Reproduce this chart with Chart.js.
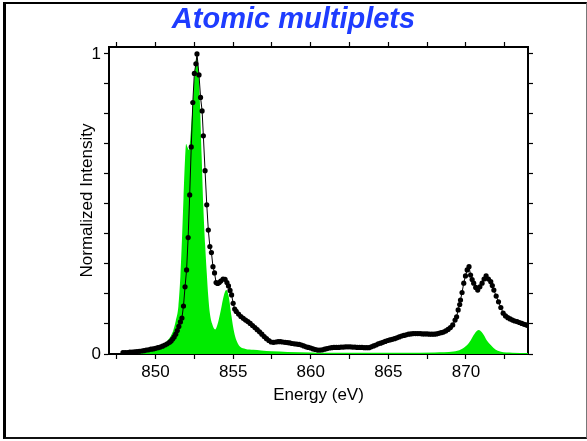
<!DOCTYPE html>
<html>
<head>
<meta charset="utf-8">
<script src="https://cdn.jsdelivr.net/npm/chart.js@4"></script>
<style>
  html, body { margin: 0; padding: 0; background: #fff; }
  #wrap { position: relative; width: 587px; height: 441px; }
  #chart { position: absolute; left: 0; top: 0; }
  #frame {
    position: absolute; left: 3px; top: 2px; width: 580px; height: 433px;
    border-left: 3px solid #000; border-top: 2px solid #000;
    border-bottom: 2px solid #111; border-right: 1px solid #777;
    pointer-events: none;
  }
</style>
</head>
<body>
<div id="wrap">
  <canvas id="chart" width="587" height="441"></canvas>
  <div id="frame"></div>
</div>
<script>
// Medido (pontos pretos)
const measuredEnergy = [847.9, 848.05, 848.2, 848.35, 848.5, 848.65, 848.8, 848.95, 849.1, 849.25,
  849.4, 849.55, 849.7, 849.85, 850.0, 850.15, 850.3, 850.45, 850.6, 850.75,
  850.9, 851.0, 851.1, 851.2, 851.3, 851.4, 851.5, 851.6, 851.7, 851.8,
  851.9, 852.0, 852.1, 852.2, 852.3, 852.4, 852.5, 852.6, 852.67, 852.8,
  852.9, 853.0, 853.08, 853.19, 853.3, 853.4, 853.5, 853.6, 853.7, 853.8,
  853.9, 854.0, 854.1, 854.2, 854.35, 854.48, 854.6, 854.7, 854.8, 854.9,
  855.0, 855.1, 855.2, 855.35, 855.5, 855.65, 855.8, 855.95, 856.1, 856.25,
  856.4, 856.55, 856.7, 856.85, 857.0, 857.15, 857.3, 857.45, 857.6, 857.75,
  857.9, 858.05, 858.2, 858.35, 858.5, 858.65, 858.8, 858.95, 859.1, 859.25,
  859.4, 859.55, 859.7, 859.85, 860.0, 860.15, 860.3, 860.45, 860.6, 860.75,
  860.9, 861.05, 861.2, 861.35, 861.5, 861.65, 861.8, 861.95, 862.1, 862.25,
  862.4, 862.55, 862.7, 862.85, 863.0, 863.15, 863.3, 863.45, 863.6, 863.75,
  863.9, 864.05, 864.2, 864.35, 864.5, 864.65, 864.8, 864.95, 865.1, 865.25,
  865.4, 865.55, 865.7, 865.85, 866.0, 866.15, 866.3, 866.45, 866.6, 866.75,
  866.9, 867.05, 867.2, 867.35, 867.5, 867.65, 867.8, 867.95, 868.1, 868.25,
  868.4, 868.55, 868.7, 868.85, 869.0, 869.15, 869.3, 869.4, 869.5, 869.6,
  869.65, 869.75, 869.86, 869.97, 870.08, 870.2, 870.3, 870.4, 870.5, 870.63,
  870.76, 870.9, 871.04, 871.17, 871.3, 871.45, 871.6, 871.7, 871.8, 871.95,
  872.1, 872.25, 872.4, 872.55, 872.7, 872.85, 873.0, 873.15, 873.3, 873.45,
  873.6, 873.75, 873.9, 874.0];
const measuredIntensity = [0.005, 0.005, 0.005, 0.006, 0.006, 0.007, 0.008, 0.009, 0.010, 0.011,
  0.013, 0.014, 0.016, 0.017, 0.019, 0.021, 0.023, 0.026, 0.030, 0.034,
  0.039, 0.043, 0.050, 0.057, 0.066, 0.078, 0.092, 0.107, 0.120, 0.160,
  0.224, 0.280, 0.388, 0.530, 0.690, 0.838, 0.935, 0.967, 1.0, 0.93,
  0.855, 0.81, 0.727, 0.611, 0.497, 0.413, 0.358, 0.338, 0.291, 0.27,
  0.238, 0.235, 0.238, 0.243, 0.25, 0.249, 0.238, 0.227, 0.212, 0.197,
  0.169, 0.150, 0.142, 0.133, 0.125, 0.119, 0.113, 0.108, 0.102, 0.095,
  0.088, 0.081, 0.074, 0.066, 0.058, 0.051, 0.045, 0.040, 0.039, 0.040,
  0.041, 0.041, 0.040, 0.039, 0.038, 0.037, 0.035, 0.034, 0.033, 0.032,
  0.030, 0.027, 0.024, 0.022, 0.020, 0.017, 0.015, 0.013, 0.013, 0.014,
  0.016, 0.018, 0.020, 0.021, 0.022, 0.022, 0.022, 0.023, 0.023, 0.024,
  0.024, 0.024, 0.023, 0.023, 0.022, 0.022, 0.022, 0.021, 0.021, 0.021,
  0.024, 0.027, 0.030, 0.034, 0.036, 0.039, 0.042, 0.045, 0.047, 0.049,
  0.051, 0.054, 0.057, 0.060, 0.062, 0.064, 0.066, 0.067, 0.068, 0.068,
  0.068, 0.068, 0.067, 0.067, 0.067, 0.066, 0.066, 0.066, 0.067, 0.069,
  0.071, 0.073, 0.077, 0.082, 0.088, 0.097, 0.113, 0.124, 0.147, 0.165,
  0.18, 0.205, 0.236, 0.26, 0.28, 0.291, 0.263, 0.248, 0.236, 0.222,
  0.213, 0.224, 0.236, 0.25, 0.26, 0.25, 0.241, 0.228, 0.213, 0.193,
  0.174, 0.155, 0.136, 0.127, 0.121, 0.117, 0.113, 0.110, 0.108, 0.105,
  0.102, 0.099, 0.097, 0.095];

// Calculado (área verde)
const calcEnergy = [847.7, 848.5, 849.0, 849.6, 850.2, 850.7, 851.0, 851.15, 851.3, 851.47,
  851.6, 851.7, 851.8, 851.9, 851.97, 852.05, 852.15, 852.3, 852.45, 852.58,
  852.67, 852.78, 852.87, 852.97, 853.08, 853.2, 853.3, 853.4, 853.5, 853.65,
  853.84, 854.0, 854.2, 854.4, 854.55, 854.7, 854.9, 855.0, 855.13, 855.3,
  855.45, 855.8, 856.3, 856.8, 857.5, 858.5, 860.0, 862.0, 864.0, 866.0,
  868.0, 869.2, 869.7, 870.08, 870.3, 870.5, 870.7, 870.83, 871.0, 871.15,
  871.35, 871.6, 871.9, 872.2, 873.0, 874.0];
const calcIntensity = [0.0, 0.003, 0.006, 0.013, 0.022, 0.041, 0.062, 0.08, 0.11, 0.158,
  0.26, 0.38, 0.52, 0.65, 0.70, 0.69, 0.68, 0.76, 0.88, 0.97,
  0.99, 0.93, 0.82, 0.66, 0.49, 0.36, 0.27, 0.19, 0.136, 0.10,
  0.082, 0.10, 0.145, 0.195, 0.213, 0.195, 0.124, 0.09, 0.058, 0.035,
  0.024, 0.017, 0.014, 0.012, 0.009, 0.007, 0.005, 0.004, 0.004, 0.004,
  0.005, 0.008, 0.016, 0.03, 0.045, 0.063, 0.077, 0.08, 0.074, 0.063,
  0.045, 0.03, 0.015, 0.008, 0.004, 0.003];

const xMin = 847, xMax = 874;
const yMin = 0, yMax = 1.023;
const xLabels = [850, 855, 860, 865, 870];
const yLabels = [0, 1];

const font = { family: "'Liberation Sans', Arial, Helvetica, sans-serif", size: 17 };

const toPoints = (xs, ys) => xs.map((x, i) => ({ x: x, y: ys[i] }));

function axisBase(pos) {
  return {
    type: 'linear',
    position: pos,
    border: { display: true, color: '#000', width: 2 },
    grid: { drawOnChartArea: false, drawTicks: true, tickLength: 5, color: '#000', tickWidth: 1.2 }
  };
}

const ctx = document.getElementById('chart').getContext('2d');
new Chart(ctx, {
  type: 'line',
  data: {
    datasets: [
      {
        label: 'Medido',
        data: toPoints(measuredEnergy, measuredIntensity),
        borderColor: '#000',
        backgroundColor: '#000',
        borderWidth: 1,
        pointRadius: 2.6,
        pointBorderWidth: 0,
        fill: false,
        xAxisID: 'x', yAxisID: 'y'
      },
      {
        label: 'Calculado',
        data: toPoints(calcEnergy, calcIntensity),
        borderColor: 'rgba(0,0,0,0)',
        backgroundColor: 'rgb(0,235,0)',
        borderWidth: 0,
        pointRadius: 0,
        cubicInterpolationMode: 'monotone',
        fill: 'origin',
        xAxisID: 'x', yAxisID: 'y'
      }
    ]
  },
  options: {
    responsive: false,
    animation: false,
    layout: { padding: 0 },
    plugins: {
      legend: { display: false },
      tooltip: { enabled: false },
      title: {
        display: true,
        text: 'Atomic multiplets',
        color: '#1e3cff',
        font: { family: font.family, size: 29, weight: 'bold', style: 'italic' },
        padding: { top: 3, bottom: 0 }
      }
    },
    scales: {
      x: Object.assign(axisBase('bottom'), {
        min: xMin, max: xMax,
        ticks: {
          stepSize: 2.5, includeBounds: false, autoSkip: false, maxRotation: 0,
          color: '#000', font: font, padding: 3,
          callback: v => xLabels.includes(v) ? String(v) : ''
        },
        title: { display: true, text: 'Energy (eV)', color: '#000', font: font, padding: { top: 0, bottom: 35 } },
        afterFit: s => { s.height = 87; }
      }),
      x2: Object.assign(axisBase('top'), {
        min: xMin, max: xMax,
        ticks: { display: false, stepSize: 2.5, includeBounds: false, autoSkip: false },
        afterFit: s => { s.height = 9.2; }
      }),
      y: Object.assign(axisBase('left'), {
        min: yMin, max: yMax,
        ticks: {
          stepSize: 0.1, includeBounds: false, autoSkip: false,
          color: '#000', font: font, padding: 3,
          callback: v => yLabels.includes(v) ? String(v) : ''
        },
        title: { display: true, text: 'Normalized Intensity', color: '#000', font: font, padding: { top: 77, bottom: 0 } },
        afterFit: s => { s.width = 109; }
      }),
      y2: Object.assign(axisBase('right'), {
        min: yMin, max: yMax,
        ticks: { display: false, stepSize: 0.1, includeBounds: false, autoSkip: false },
        afterFit: s => { s.width = 59; }
      })
    }
  }
});
</script>
</body>
</html>
